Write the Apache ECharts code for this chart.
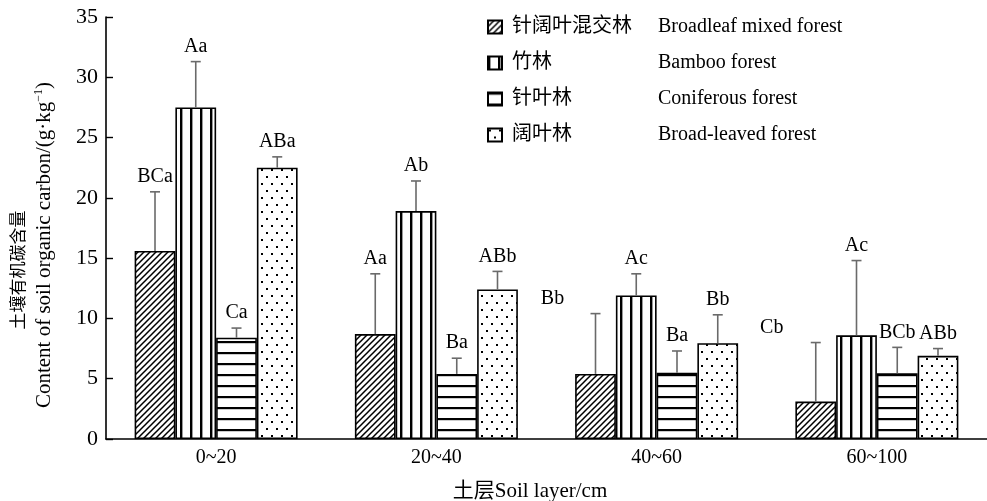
<!DOCTYPE html>
<html>
<head>
<meta charset="utf-8">
<script src="https://cdn.jsdelivr.net/npm/echarts@6/dist/echarts.min.js"></script>
<style>
  html, body { margin: 0; padding: 0; background: #fff; }
  #chart { width: 987px; height: 501px; }
</style>
</head>
<body>
<div id="chart"></div>
<script>
// Soil layers (x categories)
const layers = ['0~20', '20~40', '40~60', '60~100'];

// Forest types: Chinese name, English name
const forestCN = ['针阔叶混交林', '竹林', '针叶林', '阔叶林'];
const forestEN = ['Broadleaf mixed forest', 'Bamboo forest', 'Coniferous forest', 'Broad-leaved forest'];

// Mean soil organic carbon (g/kg) per layer
const mixedMean   = [15.6, 8.7, 5.4, 3.1];
const bambooMean  = [27.5, 18.9, 11.9, 8.6];
const coniferMean = [8.4, 5.4, 5.5, 5.45];
const broadMean   = [22.5, 12.4, 7.95, 6.9];

// Standard deviations (upper error bars)
const mixedErr   = [4.9, 5.0, 5.0, 4.9];
const bambooErr  = [3.8, 2.5, 1.8, 6.2];
const coniferErr = [0.8, 1.3, 1.8, 2.15];
const broadErr   = [0.9, 1.5, 2.35, 0.6];

// Significance letters
const mixedSig   = ['BCa', 'Aa', 'Bb', 'Cb'];
const bambooSig  = ['Aa', 'Ab', 'Ac', 'Ac'];
const coniferSig = ['Ca', 'Ba', 'Ba', 'BCb'];
const broadSig   = ['ABa', 'ABb', 'Bb', 'ABb'];

// Y axis ticks
const yMin = 0, yMax = 35, yStep = 5;

const means = [mixedMean, bambooMean, coniferMean, broadMean];
const errs = [mixedErr, bambooErr, coniferErr, broadErr];
const sigs = [mixedSig, bambooSig, coniferSig, broadSig];

// Horizontal nudges (px) for a few letter labels that sit left of their bar
const labelNudge = { '0-2': -43, '0-3': -44 };

const SERIF = '"Liberation Serif", "Times New Roman", "Noto Sans CJK SC", serif';
const CAT_GAP = 0.26;

// ---- fill patterns ----
function makeTile(w, h, draw) {
  const c = document.createElement('canvas');
  c.width = w; c.height = h;
  const ctx = c.getContext('2d');
  ctx.fillStyle = '#fff';
  ctx.fillRect(0, 0, w, h);
  ctx.fillStyle = '#000';
  ctx.strokeStyle = '#000';
  draw(ctx, w, h);
  return c;
}
const diagTile = makeTile(6, 6, function (ctx, w, h) {
  ctx.lineWidth = 1.5;
  ctx.beginPath();
  ctx.moveTo(-1, h + 1); ctx.lineTo(w + 1, -1);
  ctx.moveTo(-1, 1); ctx.lineTo(1, -1);
  ctx.moveTo(w - 1, h + 1); ctx.lineTo(w + 1, h - 1);
  ctx.stroke();
});
const vertTile = makeTile(10, 4, function (ctx) {
  ctx.fillRect(0, 0, 2.4, 4);
});
const horzTile = makeTile(4, 11, function (ctx) {
  ctx.fillRect(0, 0, 4, 2.2);
});
const dotTile = makeTile(10, 14, function (ctx) {
  ctx.fillRect(1, 1, 2, 2);
  ctx.fillRect(6, 8, 2, 2);
});
const fills = [diagTile, vertTile, horzTile, dotTile].map(function (t) {
  return { image: t, repeat: 'repeat' };
});

// ---- series ----
const barSeries = forestCN.map(function (name, k) {
  return {
    name: name,
    type: 'bar',
    barGap: '0%',
    barCategoryGap: (CAT_GAP * 100) + '%',
    data: means[k],
    itemStyle: { color: fills[k], borderColor: '#000', borderWidth: 1.6 },
    emphasis: { disabled: true },
    z: 2
  };
});

const errData = [];
for (let k = 0; k < 4; k++) {
  for (let i = 0; i < layers.length; i++) {
    errData.push([i, k, means[k][i], errs[k][i]]);
  }
}

const errSeries = {
  type: 'custom',
  name: 'err',
  data: errData,
  z: 5,
  silent: true,
  renderItem: function (params, api) {
    const cat = api.value(0), k = api.value(1), mean = api.value(2), err = api.value(3);
    const band = api.size([1, 0])[0];
    const bw = band * (1 - CAT_GAP) / 4;
    const base = api.coord([cat, 0]);
    const cx = base[0] + (k - 1.5) * bw;
    const yTop = api.coord([cat, mean])[1];
    const yErr = api.coord([cat, mean + err])[1];
    const nudge = labelNudge[k + '-' + cat] || 0;
    return {
      type: 'group',
      children: [
        { type: 'line', shape: { x1: cx, y1: yTop, x2: cx, y2: yErr },
          style: { stroke: '#6a6a6a', lineWidth: 1.6 } },
        { type: 'line', shape: { x1: cx - 5, y1: yErr, x2: cx + 5, y2: yErr },
          style: { stroke: '#6a6a6a', lineWidth: 1.6 } },
        { type: 'text', x: cx + nudge, y: yErr - 5,
          style: { text: sigs[k][cat], align: 'center', verticalAlign: 'bottom',
                   font: '20px ' + SERIF, fill: '#000' } }
      ]
    };
  }
};

const chart = echarts.init(document.getElementById('chart'), null, { renderer: 'canvas' });

chart.setOption({
  animation: false,
  backgroundColor: '#fff',
  grid: { left: 106, right: -7, top: 17, bottom: 62, containLabel: false },
  legend: {
    orient: 'vertical',
    left: 487,
    top: 16,
    padding: 0,
    icon: 'rect',
    itemWidth: 14,
    itemHeight: 13,
    itemGap: 14,
    selectedMode: false,
    data: forestCN,
    itemStyle: { borderColor: '#000', borderWidth: 2 },
    formatter: function (name) {
      const k = forestCN.indexOf(name);
      return '{cn|' + forestCN[k] + '}{en|' + forestEN[k] + '}';
    },
    textStyle: {
      lineHeight: 22,
      rich: {
        cn: { fontFamily: SERIF, fontSize: 20, width: 146, padding: [0, 0, 0, 5], color: '#000', lineHeight: 22 },
        en: { fontFamily: SERIF, fontSize: 20, color: '#000', lineHeight: 22 }
      }
    }
  },
  xAxis: {
    type: 'category',
    data: layers,
    axisLine: { lineStyle: { color: '#000', width: 1.6 } },
    axisTick: { inside: true, length: 10, lineStyle: { color: '#000', width: 1.4 } },
    axisLabel: { color: '#000', fontFamily: SERIF, fontSize: 20, margin: 9 },
    splitLine: { show: false }
  },
  yAxis: {
    type: 'value',
    min: yMin,
    max: yMax,
    interval: yStep,
    axisLine: { show: true, lineStyle: { color: '#000', width: 1.6 } },
    axisTick: { show: true, inside: true, length: 7, lineStyle: { color: '#000', width: 1.4 } },
    axisLabel: { color: '#000', fontFamily: SERIF, fontSize: 22, margin: 8 },
    splitLine: { show: false }
  },
  graphic: [
    {
      type: 'text',
      x: 18, y: 270, rotation: Math.PI / 2,
      style: { text: '土壤有机碳含量', align: 'center', verticalAlign: 'middle',
               font: '17px "Noto Sans CJK SC", sans-serif', fill: '#000' }
    },
    {
      type: 'text',
      x: 44, y: 245, rotation: Math.PI / 2,
      style: {
        text: '{t|Content of soil organic carbon/(g·kg}{s|−1}{t|)}',
        align: 'center', verticalAlign: 'middle',
        rich: {
          t: { fontFamily: SERIF, fontSize: 21, fill: '#000' },
          s: { fontFamily: SERIF, fontSize: 12, fill: '#000', verticalAlign: 'top', padding: [0, 0, 10, 0] }
        }
      }
    },
    {
      type: 'text',
      x: 530, y: 491,
      style: { text: '土层Soil layer/cm', align: 'center', verticalAlign: 'middle',
               font: '21px ' + SERIF, fill: '#000' }
    }
  ],
  series: barSeries.concat([errSeries])
});
</script>
</body>
</html>
